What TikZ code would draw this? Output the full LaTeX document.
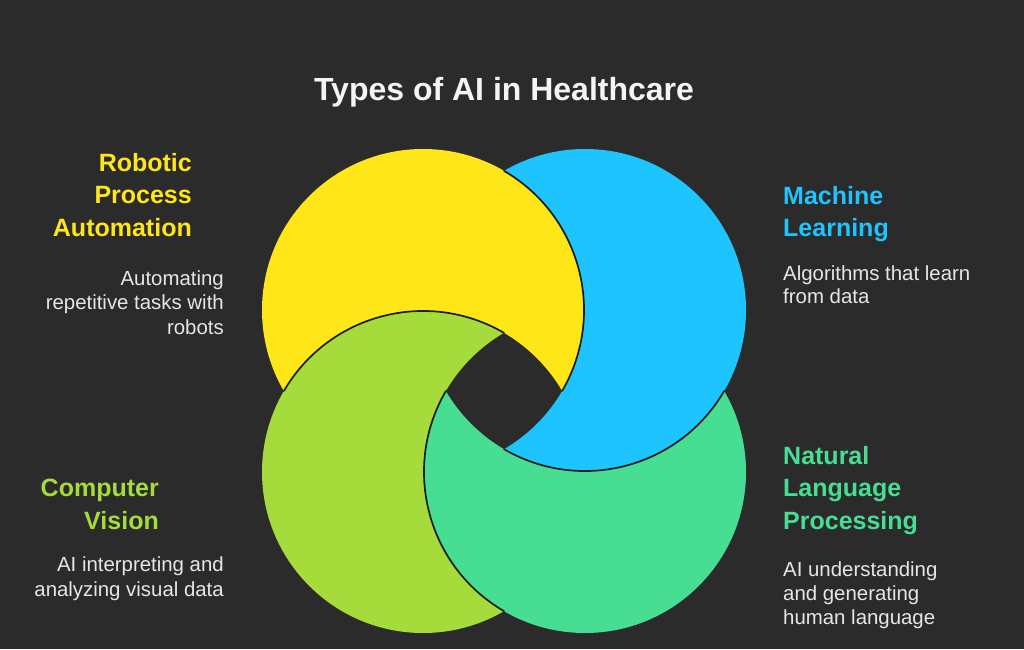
\documentclass[tikz,border=0pt]{standalone}
\usepackage{fontspec}
\setmainfont{Liberation Sans}
\definecolor{bg}{HTML}{2B2B2B}
\definecolor{cyel}{HTML}{FFE619}
\definecolor{cblu}{HTML}{1DC4FE}
\definecolor{clim}{HTML}{A5DB3A}
\definecolor{ctea}{HTML}{47DD93}
\definecolor{ttl}{HTML}{F4F4F4}
\definecolor{bodyc}{HTML}{E6E6E6}
\definecolor{edge}{HTML}{1E1E1E}
\begin{document}
\begin{tikzpicture}[x=1pt,y=1pt,
  ttlstyle/.style={font=\bfseries\fontsize{32}{38}\selectfont, text=ttl, inner sep=0pt},
  head/.style={font=\bfseries\fontsize{25}{32}\selectfont, inner sep=0pt},
  body/.style={font=\fontsize{20.4}{24}\selectfont, text=bodyc, inner sep=0pt},
  rim/.style={draw=edge, line width=1.7pt, line cap=round}]
\fill[bg] (0,0) rectangle (1024,649);
\useasboundingbox (0,0) rectangle (1024,649);
\def\R{161}
\coordinate (C) at (504,258);
\coordinate (Y) at (423,339);
\coordinate (B) at (585,339);
\coordinate (L) at (423,177);
\coordinate (T) at (585,177);
% each disc is visible where the disc that lies over it is absent
% yellow under lime
\begin{scope}[even odd rule]
  \clip (L) circle (\R) (-50,-50) rectangle (1100,700);
  \fill[cyel] (Y) circle (\R);
\end{scope}
% blue under yellow
\begin{scope}[even odd rule]
  \clip (Y) circle (\R) (-50,-50) rectangle (1100,700);
  \fill[cblu] (B) circle (\R);
\end{scope}
% teal under blue
\begin{scope}[even odd rule]
  \clip (B) circle (\R) (-50,-50) rectangle (1100,700);
  \fill[ctea] (T) circle (\R);
\end{scope}
% lime under teal
\begin{scope}[even odd rule]
  \clip (T) circle (\R) (-50,-50) rectangle (1100,700);
  \fill[clim] (L) circle (\R);
\end{scope}
% outlines
\draw[rim] (Y) ++(59.79:\R) arc[start angle=59.79, end angle=-30.21, radius=\R];
\draw[rim] (B) ++(-30.21:\R) arc[start angle=-30.21, end angle=-120.21, radius=\R];
\draw[rim] (T) ++(-120.21:\R) arc[start angle=-120.21, end angle=-210.21, radius=\R];
\draw[rim] (L) ++(149.79:\R) arc[start angle=149.79, end angle=59.79, radius=\R];
% title
\node[ttlstyle, anchor=base] (title) at (504,548) {Types of AI in Healthcare};
% RPA
\node[head, text=cyel, anchor=base east] (rpa1) at (192,477.3) {Robotic};
\node[head, text=cyel, anchor=base east] (rpa2) at (192,445.1) {Process};
\node[head, text=cyel, anchor=base east] (rpa3) at (192,412.9) {Automation};
\node[body, anchor=base east] (rpab1) at (224,364) {Automating};
\node[body, anchor=base east] (rpab2) at (224,339.5) {repetitive tasks with};
\node[body, anchor=base east] (rpab3) at (224,315) {robots};
% ML
\node[head, text=cblu, anchor=base west] (ml1) at (783,444) {Machine};
\node[head, text=cblu, anchor=base west] (ml2) at (783,412.3) {Learning};
\node[body, anchor=base west] (mlb1) at (783,369) {Algorithms that learn};
\node[body, anchor=base west] (mlb2) at (783,345.5) {from data};
% CV
\node[head, text=clim, anchor=base east] (cv1) at (159,152.3) {Computer};
\node[head, text=clim, anchor=base east] (cv2) at (159,119.7) {Vision};
\node[body, anchor=base east] (cvb1) at (224,77.3) {AI interpreting and};
\node[body, anchor=base east] (cvb2) at (224,53) {analyzing visual data};
% NLP
\node[head, text=ctea, anchor=base west] (nlp1) at (783,184.7) {Natural};
\node[head, text=ctea, anchor=base west] (nlp2) at (783,152.3) {Language};
\node[head, text=ctea, anchor=base west] (nlp3) at (783,119.7) {Processing};
\node[body, anchor=base west] (nlpb1) at (783,72.3) {AI understanding};
\node[body, anchor=base west] (nlpb2) at (783,49) {and generating};
\node[body, anchor=base west] (nlpb3) at (783,25) {human language};
\end{tikzpicture}
\end{document}
